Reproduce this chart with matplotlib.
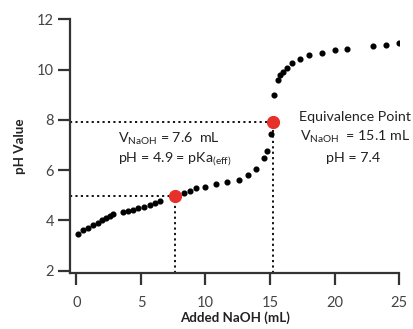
import matplotlib
matplotlib.use('Agg')
import matplotlib.pyplot as plt

# Titration curve.
naohVol = [0.1, 0.5, 0.9, 1.3, 1.7, 2.0, 2.3, 2.6, 2.85, 3.6, 4.0, 4.4,
           4.8, 5.2, 5.7, 6.1, 6.5, 8.3, 8.8, 9.3, 10.0, 10.8, 11.7,
           12.6, 13.3, 13.9, 14.5, 14.8, 15.1, 15.3, 15.6, 15.8, 16.0,
           16.3, 16.7, 17.3, 18.0, 19.0, 20.0, 21.0, 23.0, 24.0, 25.0]
phVal = [3.45, 3.6, 3.7, 3.8, 3.9, 4.0, 4.1, 4.18, 4.25, 4.33, 4.38, 4.43,
         4.48, 4.55, 4.62, 4.68, 4.77, 5.07, 5.17, 5.27, 5.32, 5.43, 5.54,
         5.61, 5.81, 6.06, 6.5, 6.78, 7.42, 8.99, 9.57, 9.8, 9.92,
         10.05, 10.28, 10.41, 10.57, 10.66, 10.77, 10.81, 10.95, 11.0, 11.07]

# Highlighted points: pKa(eff) and equivalence point.
keyVol = [7.6, 15.2]
keyPh = [4.95, 7.9]

params = {'font.family': ['Lato', 'DejaVu Sans'],
          'mathtext.fontset': 'custom',
          'mathtext.rm': 'Lato',
          'xtick.labelsize': 10.5,
          'ytick.labelsize': 10.5}
plt.rcParams.update(params)

fig = plt.figure(figsize=(4.14, 3.29), dpi=100)
ax = fig.add_axes([0.169, 0.170, 0.795, 0.771])

xMin, yMin = -0.5, 1.9
txtSize = 10.3
txtColor = '#222222'

# Dotted guide lines to the key points.
for xv, yv in zip(keyVol, keyPh):
    ax.plot([xMin, xv], [yv, yv], color='black', linestyle=(0, (1.2, 1.8)),
            linewidth=1.3, zorder=1)
    ax.plot([xv, xv], [yMin, yv], color='black', linestyle=(0, (1.2, 1.8)),
            linewidth=1.3, zorder=1)

ax.plot(naohVol, phVal, linestyle='none', marker='o', markersize=3.4,
        color='black', zorder=2)
ax.plot(keyVol, keyPh, linestyle='none', marker='o', markersize=8.5,
        color='#e8302a', zorder=3)

ax.text(3.2, 7.23, r'V$_{\mathregular{NaOH}}$ = 7.6  mL', fontsize=txtSize,
        ha='left', va='center', color=txtColor)
ax.text(3.2, 6.45, r'pH = 4.9 = pKa$_{\mathregular{(eff)}}$', fontsize=txtSize,
        ha='left', va='center', color=txtColor)
ax.text(21.6, 8.13, 'Equivalence Point', fontsize=txtSize,
        ha='center', va='center', color=txtColor)
ax.text(21.6, 7.33, r'V$_{\mathregular{NaOH}}$  = 15.1 mL', fontsize=txtSize,
        ha='center', va='center', color=txtColor)
ax.text(21.4, 6.48, 'pH = 7.4', fontsize=txtSize,
        ha='center', va='center', color=txtColor)

ax.set_xlim(xMin, 25)
ax.set_ylim(yMin, 12)
ax.set_xticks([0, 5, 10, 15, 20, 25])
ax.set_yticks([2, 4, 6, 8, 10, 12])
for side in ['top', 'right']:
    ax.spines[side].set_visible(False)
for side in ['left', 'bottom']:
    ax.spines[side].set_linewidth(1.6)
    ax.spines[side].set_color('#333333')
ax.tick_params(width=1.6, length=8.5, color='#333333', labelcolor='#444444')
ax.tick_params(axis='y', pad=3)
ax.tick_params(axis='x', pad=8)

ax.set_xlabel('Added NaOH (mL)', fontsize=9.6, fontweight='bold',
              color=txtColor, labelpad=1)
ax.set_ylabel('pH Value', fontsize=9.6, fontweight='bold', color=txtColor,
              labelpad=8)

fig.savefig('out.png', dpi=100)
